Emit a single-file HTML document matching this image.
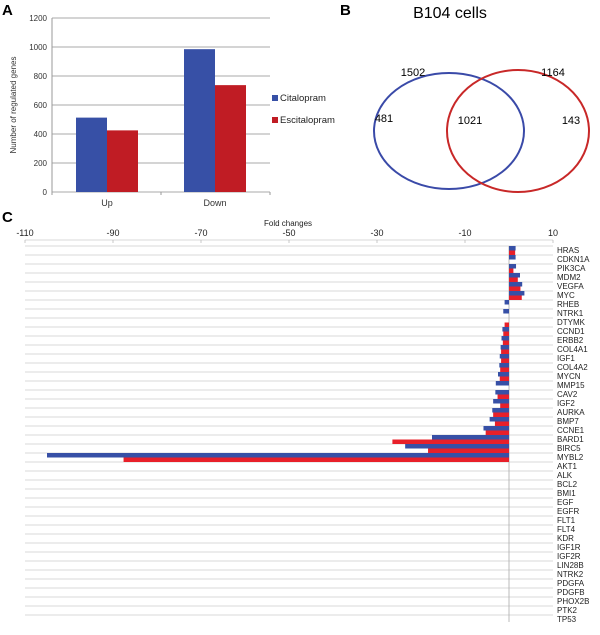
<!DOCTYPE html>
<html><head><meta charset="utf-8"><style>
body{margin:0;background:#fff;font-family:"Liberation Sans",Arial,sans-serif}
svg text{font-family:"Liberation Sans",Arial,sans-serif}
</style></head><body>
<svg id="fig" width="600" height="630" viewBox="0 0 600 630">
<text x="2" y="15" font-size="15" font-weight="bold">A</text>
<text x="340" y="15" font-size="15" font-weight="bold">B</text>
<text x="2" y="222" font-size="15" font-weight="bold">C</text>
<g id="pa"></g>
<g id="pb">
<text x="450" y="18" font-size="16" text-anchor="middle">B104 cells</text>
<ellipse cx="449" cy="131" rx="75" ry="58" fill="none" stroke="#3a4aa8" stroke-width="2"/>
<ellipse cx="518" cy="131" rx="71" ry="61" fill="none" stroke="#c82828" stroke-width="2"/>
<text x="413" y="76" font-size="11" text-anchor="middle">1502</text>
<text x="553" y="76" font-size="11" text-anchor="middle">1164</text>
<text x="384" y="122" font-size="11" text-anchor="middle">481</text>
<text x="470" y="124" font-size="11" text-anchor="middle">1021</text>
<text x="571" y="124" font-size="11" text-anchor="middle">143</text>
</g>
<g id="pc"></g>
</svg>
<script>
const NS="http://www.w3.org/2000/svg";
function mk(p,t,a){const e=document.createElementNS(NS,t);for(const k in a)e.setAttribute(k,a[k]);p.appendChild(e);return e;}
// Panel A data
const aCats=["Up","Down"];
const aCit=[513,985];
const aEsc=[425,737];
const aTicks=[0,200,400,600,800,1000,1200];
const pa=document.getElementById('pa');
const ay=v=>192-v*(174/1200);
aTicks.forEach(t=>{
 const l=mk(pa,'line',{x1:52,x2:270,y1:ay(t),y2:ay(t),stroke:'#aaa','stroke-width':1});
 
 
 const tx=mk(pa,'text',{x:47,y:ay(t)+3,'font-size':8,'text-anchor':'end',fill:'#333'});tx.textContent=t;
 
 
});
mk(pa,'line',{x1:52,x2:52,y1:18,y2:192,stroke:'#999'});
[52,161,270].forEach(x=>mk(pa,'line',{x1:x,x2:x,y1:192,y2:195,stroke:'#999'}));
aCats.forEach((c,i)=>{
 const cx=107+i*108;
 const b=mk(pa,'rect',{x:cx-31,y:ay(aCit[i]),width:31,height:192-ay(aCit[i]),fill:'#3750a6'});
 
 
 const r=mk(pa,'rect',{x:cx,y:ay(aEsc[i]),width:31,height:192-ay(aEsc[i]),fill:'#c01c24'});
 
 
 const t=mk(pa,'text',{x:cx,y:206,'font-size':9,'text-anchor':'middle',fill:'#333'});t.textContent=c;
 
 
});
const yl=mk(pa,'text',{x:0,y:0,'font-size':8,'text-anchor':'middle',fill:'#333',transform:'translate(16,105) rotate(-90)'});yl.textContent='Number of regulated genes';


[["Citalopram",'#3750a6',101],["Escitalopram",'#c01c24',123]].forEach(d=>{
 const s=mk(pa,'rect',{x:272,y:d[2]-6,width:6,height:6,fill:d[1]});
 
 
 const t=mk(pa,'text',{x:280,y:d[2],'font-size':9.5,fill:'#222'});t.textContent=d[0];
 
 
});
// Panel C data
const genes=["HRAS","CDKN1A","PIK3CA","MDM2","VEGFA","MYC","RHEB","NTRK1","DTYMK","CCND1","ERBB2","COL4A1","IGF1","COL4A2","MYCN","MMP15","CAV2","IGF2","AURKA","BMP7","CCNE1","BARD1","BIRC5","MYBL2","AKT1","ALK","BCL2","BMI1","EGF","EGFR","FLT1","FLT4","KDR","IGF1R","IGF2R","LIN28B","NTRK2","PDGFA","PDGFB","PHOX2B","PTK2","TP53"];
const citFold=[1.5,1.5,1.6,2.5,3.0,3.5,-1.0,-1.3,0,-1.5,-1.7,-1.9,-2.1,-2.2,-2.5,-3.0,-3.1,-3.6,-3.8,-4.4,-5.8,-17.5,-23.6,-105,0,0,0,0,0,0,0,0,0,0,0,0,0,0,0,0,0,0];
const escFold=[1.4,0,1.0,2.0,2.6,2.9,0,0,-1.0,-1.3,-1.4,-1.8,-1.8,-2.0,-2.1,0,-2.6,-2.0,-3.6,-3.2,-5.3,-26.5,-18.4,-87.6,0,0,0,0,0,0,0,0,0,0,0,0,0,0,0,0,0,0];
const cTicks=[-110,-90,-70,-50,-30,-10,10];
const pc=document.getElementById('pc');
const cx=v=>25+(v+110)*(528/120);
const y0=246, rh=9.0;
const ft=mk(pc,'text',{x:288,y:226,'font-size':8,'text-anchor':'middle',fill:'#222'});ft.textContent='Fold changes';


mk(pc,'line',{x1:25,x2:553,y1:240,y2:240,stroke:'#ccc','stroke-width':0.8});
cTicks.forEach(t=>{
 const tx=mk(pc,'text',{x:cx(t),y:236,'font-size':9,'text-anchor':'middle',fill:'#222'});tx.textContent=t;
 
 
 mk(pc,'line',{x1:cx(t),x2:cx(t),y1:240,y2:243,stroke:'#bbb','stroke-width':0.8});
});
for(let i=0;i<genes.length;i++){
 mk(pc,'line',{x1:25,x2:553,y1:y0+i*rh,y2:y0+i*rh,stroke:'#ccc','stroke-width':0.8});
}
mk(pc,'line',{x1:cx(0),x2:cx(0),y1:y0,y2:y0+genes.length*rh-2,stroke:'#aaa','stroke-width':0.8});
genes.forEach((g,i)=>{
 const top=y0+i*rh, h=rh/2;
 const b=mk(pc,'rect',{x:Math.min(cx(0),cx(citFold[i])),y:top,width:Math.abs(cx(citFold[i])-cx(0)),height:h,fill:'#3750a6'});
 
 
 const r=mk(pc,'rect',{x:Math.min(cx(0),cx(escFold[i])),y:top+h,width:Math.abs(cx(escFold[i])-cx(0)),height:h,fill:'#e8202a'});
 
 
 const t=mk(pc,'text',{x:557,y:y0+i*rh+7,'font-size':8,fill:'#222'});t.textContent=g;
 
 
});
</script>
</body></html>
